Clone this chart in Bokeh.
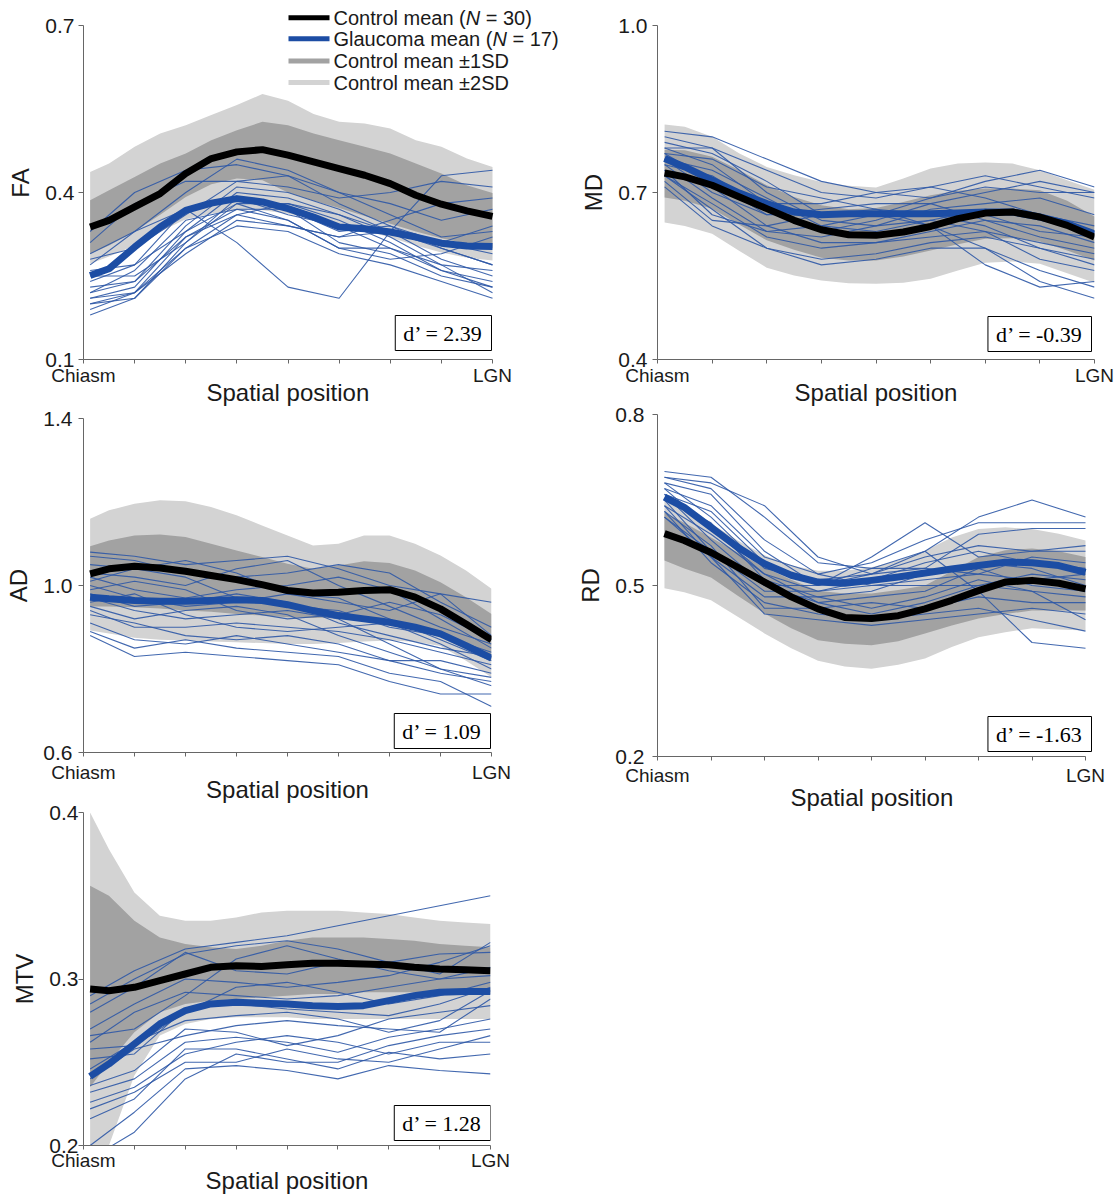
from bokeh.plotting import figure
from bokeh.layouts import row, column
from bokeh.models import Range1d, FixedTicker, Label, BoxAnnotation, Title
from bokeh.embed import file_html
from bokeh.resources import INLINE

# ---------------- data ----------------
XS = [0.13, 0.5, 1.0, 1.5, 2.0, 2.5, 3.0, 3.5, 4.0, 4.5, 5.0, 5.5, 6.0, 6.5, 7.0, 7.5, 8.0]
XS_SUBJ = [0.13, 1, 2, 3, 4, 5, 6, 7, 8]
X_TICKS = [0, 1, 2, 3, 4, 5, 6, 7, 8]
X_TICK_LABELS = {0: "Chiasm", 8: "LGN"}
X_LABEL = "Spatial position"

# FA
FA_YTICKS = [0.1, 0.4, 0.7]
FA_YTICK_LABELS = ["0.1", "0.4", "0.7"]
FA_CTRL = [0.338, 0.350, 0.374, 0.398, 0.434, 0.461, 0.473, 0.477, 0.467, 0.455, 0.443, 0.431, 0.416, 0.395, 0.379, 0.367, 0.357]
FA_GLAU = [0.251, 0.263, 0.302, 0.338, 0.368, 0.381, 0.389, 0.383, 0.371, 0.356, 0.338, 0.335, 0.329, 0.320, 0.309, 0.304, 0.303]
FA_UP2 = [0.437, 0.452, 0.482, 0.506, 0.521, 0.539, 0.557, 0.577, 0.565, 0.541, 0.527, 0.524, 0.515, 0.494, 0.482, 0.461, 0.446]
FA_UP1 = [0.386, 0.404, 0.428, 0.452, 0.470, 0.494, 0.512, 0.527, 0.521, 0.506, 0.494, 0.482, 0.470, 0.452, 0.434, 0.413, 0.399]
FA_LO1 = [0.290, 0.305, 0.330, 0.360, 0.392, 0.415, 0.425, 0.422, 0.400, 0.385, 0.372, 0.358, 0.344, 0.330, 0.318, 0.308, 0.300]
FA_LO2 = [0.272, 0.285, 0.305, 0.330, 0.352, 0.362, 0.368, 0.368, 0.362, 0.352, 0.342, 0.332, 0.319, 0.305, 0.292, 0.283, 0.278]
FA_SUBJECTS = [
    [0.33, 0.40, 0.44, 0.45, 0.43, 0.40, 0.38, 0.35, 0.37],
    [0.31, 0.38, 0.42, 0.42, 0.41, 0.39, 0.40, 0.42, 0.41],
    [0.29, 0.33, 0.40, 0.46, 0.44, 0.40, 0.36, 0.32, 0.33],
    [0.28, 0.30, 0.36, 0.42, 0.43, 0.38, 0.34, 0.30, 0.27],
    [0.27, 0.33, 0.37, 0.31, 0.23, 0.21, 0.33, 0.43, 0.44],
    [0.26, 0.27, 0.33, 0.40, 0.39, 0.36, 0.33, 0.28, 0.25],
    [0.25, 0.25, 0.31, 0.38, 0.38, 0.35, 0.31, 0.26, 0.23],
    [0.24, 0.27, 0.37, 0.39, 0.36, 0.34, 0.30, 0.27, 0.26],
    [0.23, 0.24, 0.32, 0.37, 0.37, 0.33, 0.34, 0.31, 0.29],
    [0.22, 0.24, 0.34, 0.41, 0.40, 0.37, 0.33, 0.31, 0.34],
    [0.22, 0.26, 0.35, 0.37, 0.35, 0.30, 0.30, 0.26, 0.24],
    [0.21, 0.22, 0.30, 0.36, 0.38, 0.36, 0.32, 0.27, 0.22],
    [0.21, 0.23, 0.33, 0.38, 0.35, 0.30, 0.28, 0.29, 0.32],
    [0.20, 0.22, 0.29, 0.35, 0.34, 0.32, 0.33, 0.30, 0.27],
    [0.20, 0.21, 0.30, 0.34, 0.33, 0.29, 0.27, 0.24, 0.21],
    [0.19, 0.22, 0.32, 0.36, 0.34, 0.32, 0.35, 0.38, 0.39],
    [0.18, 0.21, 0.31, 0.39, 0.37, 0.31, 0.29, 0.25, 0.23],
]
FA_DPRIME = "2.39"

# MD
MD_YTICKS = [0.4, 0.7, 1.0]
MD_YTICK_LABELS = ["0.4", "0.7", "1.0"]
MD_CTRL = [0.735, 0.728, 0.713, 0.692, 0.671, 0.650, 0.633, 0.624, 0.623, 0.629, 0.639, 0.653, 0.663, 0.665, 0.656, 0.641, 0.620]
MD_GLAU = [0.761, 0.746, 0.722, 0.699, 0.680, 0.665, 0.660, 0.662, 0.662, 0.662, 0.662, 0.663, 0.665, 0.665, 0.656, 0.644, 0.626]
MD_UP2 = [0.822, 0.818, 0.800, 0.770, 0.746, 0.731, 0.719, 0.712, 0.709, 0.725, 0.743, 0.752, 0.754, 0.752, 0.740, 0.722, 0.705]
MD_UP1 = [0.777, 0.776, 0.764, 0.740, 0.713, 0.692, 0.677, 0.670, 0.672, 0.683, 0.695, 0.703, 0.707, 0.707, 0.704, 0.685, 0.657]
MD_LO1 = [0.691, 0.685, 0.671, 0.642, 0.614, 0.597, 0.583, 0.578, 0.578, 0.585, 0.596, 0.607, 0.617, 0.618, 0.612, 0.596, 0.578]
MD_LO2 = [0.646, 0.640, 0.626, 0.595, 0.565, 0.551, 0.542, 0.537, 0.536, 0.538, 0.545, 0.560, 0.574, 0.576, 0.572, 0.555, 0.538]
MD_SUBJECTS = [
    [0.81, 0.80, 0.76, 0.72, 0.70, 0.69, 0.72, 0.74, 0.71],
    [0.80, 0.78, 0.74, 0.70, 0.69, 0.71, 0.73, 0.71, 0.69],
    [0.79, 0.77, 0.72, 0.66, 0.66, 0.69, 0.71, 0.70, 0.70],
    [0.78, 0.78, 0.70, 0.65, 0.64, 0.67, 0.68, 0.69, 0.66],
    [0.78, 0.75, 0.68, 0.68, 0.70, 0.71, 0.69, 0.66, 0.64],
    [0.77, 0.76, 0.71, 0.69, 0.67, 0.64, 0.60, 0.54, 0.51],
    [0.77, 0.72, 0.66, 0.67, 0.68, 0.68, 0.65, 0.62, 0.60],
    [0.76, 0.74, 0.69, 0.64, 0.63, 0.65, 0.67, 0.66, 0.63],
    [0.76, 0.70, 0.66, 0.66, 0.66, 0.66, 0.64, 0.60, 0.58],
    [0.75, 0.73, 0.67, 0.63, 0.65, 0.68, 0.70, 0.72, 0.70],
    [0.75, 0.69, 0.63, 0.62, 0.64, 0.65, 0.63, 0.58, 0.56],
    [0.74, 0.66, 0.63, 0.64, 0.66, 0.64, 0.57, 0.53, 0.54],
    [0.74, 0.71, 0.64, 0.61, 0.61, 0.62, 0.63, 0.61, 0.59],
    [0.73, 0.68, 0.62, 0.60, 0.61, 0.63, 0.65, 0.64, 0.61],
    [0.73, 0.67, 0.60, 0.58, 0.59, 0.61, 0.62, 0.60, 0.57],
    [0.72, 0.65, 0.64, 0.66, 0.67, 0.66, 0.66, 0.63, 0.62],
    [0.71, 0.64, 0.60, 0.57, 0.58, 0.60, 0.60, 0.56, 0.53],
]
MD_DPRIME = "-0.39"

# AD
AD_YTICKS = [0.6, 1.0, 1.4]
AD_YTICK_LABELS = ["0.6", "1.0", "1.4"]
AD_CTRL = [1.028, 1.040, 1.046, 1.042, 1.034, 1.024, 1.014, 1.002, 0.988, 0.982, 0.984, 0.988, 0.990, 0.972, 0.944, 0.908, 0.870]
AD_GLAU = [0.972, 0.968, 0.964, 0.962, 0.962, 0.964, 0.966, 0.964, 0.954, 0.940, 0.928, 0.920, 0.912, 0.900, 0.884, 0.856, 0.826]
AD_UP2 = [1.160, 1.180, 1.196, 1.204, 1.202, 1.188, 1.168, 1.144, 1.120, 1.096, 1.100, 1.120, 1.120, 1.100, 1.072, 1.036, 0.992]
AD_UP1 = [1.094, 1.108, 1.120, 1.122, 1.116, 1.100, 1.084, 1.068, 1.052, 1.040, 1.048, 1.058, 1.054, 1.036, 1.008, 0.972, 0.932]
AD_LO1 = [0.950, 0.950, 0.948, 0.945, 0.940, 0.937, 0.932, 0.928, 0.924, 0.922, 0.924, 0.925, 0.920, 0.905, 0.880, 0.850, 0.820]
AD_LO2 = [0.892, 0.885, 0.875, 0.870, 0.868, 0.866, 0.864, 0.862, 0.860, 0.860, 0.862, 0.866, 0.868, 0.865, 0.855, 0.820, 0.780]
AD_SUBJECTS = [
    [1.08, 1.07, 1.05, 1.06, 1.07, 1.04, 1.00, 0.98, 0.96],
    [1.07, 1.06, 1.03, 1.02, 1.03, 1.05, 1.03, 0.96, 0.90],
    [1.05, 1.04, 1.06, 1.03, 0.98, 0.96, 0.94, 0.98, 0.88],
    [1.03, 1.02, 1.00, 1.04, 1.06, 1.00, 0.95, 0.90, 0.86],
    [1.02, 0.99, 0.97, 0.99, 1.00, 1.02, 0.99, 0.92, 0.85],
    [1.01, 1.04, 1.02, 0.97, 0.95, 0.94, 0.90, 0.88, 0.84],
    [1.00, 0.97, 0.95, 0.96, 0.98, 0.97, 0.92, 0.87, 0.82],
    [0.99, 1.01, 0.99, 0.94, 0.92, 0.93, 0.96, 0.93, 0.87],
    [0.98, 0.95, 0.96, 0.98, 0.96, 0.91, 0.88, 0.85, 0.83],
    [0.97, 0.94, 0.92, 0.93, 0.94, 0.92, 0.86, 0.80, 0.78],
    [0.96, 0.98, 0.93, 0.90, 0.89, 0.90, 0.91, 0.86, 0.80],
    [0.95, 0.92, 0.94, 0.95, 0.93, 0.88, 0.84, 0.80, 0.76],
    [0.94, 0.90, 0.90, 0.91, 0.90, 0.89, 0.87, 0.84, 0.81],
    [0.93, 0.91, 0.88, 0.87, 0.88, 0.86, 0.82, 0.79, 0.77],
    [0.91, 0.87, 0.86, 0.88, 0.86, 0.84, 0.82, 0.82, 0.79],
    [0.89, 0.85, 0.87, 0.85, 0.84, 0.83, 0.79, 0.77, 0.71],
    [0.88, 0.83, 0.84, 0.83, 0.82, 0.81, 0.77, 0.74, 0.74],
]
AD_DPRIME = "1.09"

# RD
RD_YTICKS = [0.2, 0.5, 0.8]
RD_YTICK_LABELS = ["0.2", "0.5", "0.8"]
RD_CTRL = [0.591, 0.579, 0.558, 0.532, 0.506, 0.480, 0.459, 0.444, 0.442, 0.447, 0.459, 0.474, 0.491, 0.506, 0.509, 0.504, 0.494]
RD_GLAU = [0.655, 0.637, 0.602, 0.567, 0.538, 0.518, 0.506, 0.504, 0.509, 0.515, 0.522, 0.529, 0.535, 0.541, 0.540, 0.535, 0.523]
RD_UP2 = [0.649, 0.632, 0.609, 0.579, 0.553, 0.535, 0.526, 0.526, 0.532, 0.544, 0.561, 0.584, 0.599, 0.602, 0.599, 0.591, 0.579]
RD_UP1 = [0.628, 0.610, 0.584, 0.558, 0.532, 0.510, 0.491, 0.486, 0.486, 0.492, 0.500, 0.525, 0.550, 0.562, 0.565, 0.560, 0.550]
RD_LO1 = [0.544, 0.530, 0.514, 0.482, 0.451, 0.425, 0.404, 0.398, 0.395, 0.402, 0.416, 0.430, 0.442, 0.450, 0.456, 0.456, 0.456]
RD_LO2 = [0.495, 0.488, 0.474, 0.445, 0.416, 0.390, 0.368, 0.358, 0.354, 0.361, 0.372, 0.392, 0.409, 0.418, 0.425, 0.423, 0.421]
RD_SUBJECTS = [
    [0.70, 0.69, 0.62, 0.54, 0.53, 0.56, 0.62, 0.65, 0.62],
    [0.69, 0.67, 0.58, 0.52, 0.54, 0.58, 0.61, 0.61, 0.61],
    [0.69, 0.68, 0.64, 0.55, 0.52, 0.53, 0.59, 0.60, 0.60],
    [0.68, 0.66, 0.56, 0.50, 0.55, 0.61, 0.55, 0.56, 0.57],
    [0.68, 0.62, 0.53, 0.51, 0.52, 0.55, 0.57, 0.56, 0.56],
    [0.67, 0.64, 0.55, 0.52, 0.50, 0.51, 0.52, 0.55, 0.54],
    [0.67, 0.60, 0.52, 0.49, 0.51, 0.54, 0.56, 0.54, 0.53],
    [0.66, 0.63, 0.54, 0.50, 0.52, 0.56, 0.49, 0.40, 0.39],
    [0.66, 0.58, 0.50, 0.50, 0.53, 0.53, 0.52, 0.51, 0.52],
    [0.65, 0.61, 0.51, 0.48, 0.49, 0.52, 0.54, 0.53, 0.50],
    [0.65, 0.56, 0.49, 0.49, 0.50, 0.50, 0.50, 0.52, 0.51],
    [0.64, 0.59, 0.52, 0.47, 0.48, 0.49, 0.53, 0.50, 0.49],
    [0.64, 0.55, 0.48, 0.48, 0.46, 0.48, 0.51, 0.49, 0.48],
    [0.63, 0.57, 0.46, 0.46, 0.47, 0.46, 0.48, 0.47, 0.47],
    [0.63, 0.54, 0.47, 0.45, 0.44, 0.45, 0.46, 0.44, 0.42],
    [0.62, 0.56, 0.50, 0.47, 0.45, 0.47, 0.50, 0.49, 0.44],
    [0.62, 0.55, 0.45, 0.44, 0.43, 0.44, 0.45, 0.46, 0.45],
]
RD_DPRIME = "-1.63"

# MTV
MTV_YTICKS = [0.2, 0.3, 0.4]
MTV_YTICK_LABELS = ["0.2", "0.3", "0.4"]
MTV_CTRL = [0.294, 0.293, 0.295, 0.299, 0.303, 0.307, 0.308, 0.3075, 0.3085, 0.3095, 0.3095, 0.309, 0.3085, 0.307, 0.306, 0.3055, 0.305]
MTV_GLAU = [0.2415, 0.249, 0.261, 0.273, 0.281, 0.285, 0.286, 0.2855, 0.285, 0.284, 0.2835, 0.284, 0.287, 0.290, 0.292, 0.2925, 0.2925]
MTV_UP2 = [0.420, 0.378, 0.352, 0.338, 0.335, 0.335, 0.337, 0.340, 0.341, 0.341, 0.341, 0.340, 0.339, 0.337, 0.335, 0.334, 0.333]
MTV_UP1 = [0.356, 0.350, 0.335, 0.325, 0.321, 0.319, 0.318, 0.320, 0.323, 0.325, 0.325, 0.325, 0.324, 0.323, 0.321, 0.320, 0.319]
MTV_LO1 = [0.235, 0.250, 0.268, 0.280, 0.285, 0.287, 0.288, 0.289, 0.290, 0.291, 0.291, 0.292, 0.292, 0.292, 0.291, 0.291, 0.291]
MTV_LO2 = [0.160, 0.200, 0.242, 0.266, 0.273, 0.276, 0.277, 0.277, 0.277, 0.276, 0.276, 0.276, 0.276, 0.276, 0.276, 0.276, 0.276]
MTV_SUBJECTS = [
    [0.290, 0.305, 0.318, 0.322, 0.326, 0.332, 0.338, 0.344, 0.350],
    [0.285, 0.300, 0.315, 0.320, 0.323, 0.318, 0.310, 0.315, 0.316],
    [0.280, 0.295, 0.316, 0.305, 0.303, 0.310, 0.310, 0.303, 0.322],
    [0.270, 0.285, 0.300, 0.298, 0.295, 0.298, 0.302, 0.310, 0.320],
    [0.266, 0.270, 0.290, 0.312, 0.320, 0.312, 0.305, 0.300, 0.307],
    [0.262, 0.280, 0.292, 0.290, 0.288, 0.290, 0.295, 0.300, 0.302],
    [0.258, 0.260, 0.280, 0.295, 0.298, 0.292, 0.285, 0.290, 0.298],
    [0.252, 0.255, 0.282, 0.285, 0.282, 0.280, 0.278, 0.285, 0.295],
    [0.246, 0.262, 0.275, 0.278, 0.280, 0.276, 0.268, 0.275, 0.293],
    [0.240, 0.258, 0.266, 0.272, 0.275, 0.272, 0.270, 0.268, 0.288],
    [0.236, 0.245, 0.270, 0.268, 0.260, 0.266, 0.276, 0.280, 0.284],
    [0.232, 0.240, 0.262, 0.265, 0.262, 0.256, 0.265, 0.270, 0.276],
    [0.226, 0.235, 0.255, 0.262, 0.266, 0.262, 0.255, 0.262, 0.262],
    [0.222, 0.232, 0.250, 0.250, 0.258, 0.252, 0.250, 0.258, 0.266],
    [0.216, 0.228, 0.258, 0.258, 0.252, 0.246, 0.256, 0.252, 0.255],
    [0.200, 0.220, 0.246, 0.248, 0.245, 0.240, 0.248, 0.245, 0.243],
    [0.192, 0.208, 0.240, 0.255, 0.250, 0.250, 0.260, 0.266, 0.270],
]
MTV_DPRIME = "1.28"

LEGEND_ROWS = [
    ("Control mean (", "N", "= 30)"),
    ("Glaucoma mean (", "N", "= 17)"),
    ("Control mean \u00b11SD", "", ""),
    ("Control mean \u00b12SD", "", ""),
]

# ---------------- style ----------------
LIGHT = "#d3d3d3"
DARK = "#a2a2a2"
SUBJ_COLOR = "#2d58a6"
GLAU_COLOR = "#1c4da4"
CTRL_COLOR = "#000000"
AXIS_COLOR = "#666666"
TEXT_COLOR = "#1a1a1a"
SANS = "Liberation Sans"
SERIF = "Liberation Serif"

# Arial/Liberation Sans advance widths (per 1000 em) for legend text layout
ADV = {"C": 722, "o": 556, "n": 556, "t": 278, "r": 333, "l": 222, " ": 278, "m": 833,
       "e": 556, "a": 556, "(": 333, "G": 778, "u": 556, "c": 500, "N": 722}


def text_width(s, size):
    return sum(ADV.get(ch, 556) for ch in s) * size / 1000.0


def make_panel(ylabel, yticks, ytick_labels, ctrl, glau, up2, up1, lo1, lo2, subjects,
               dprime, geo):
    fw, fh = geo["fw"], geo["fh"]
    ext_r, ext_t = geo["ext_r"], geo["ext_t"]
    x0, x1 = X_TICKS[0], X_TICKS[-1]
    y0, y1 = yticks[0], yticks[-1]
    # the frame may be extended beyond the plotted area (axes keep their bounds)
    x_end = x1 + (x1 - x0) * ext_r / fw
    y_end = y1 + (y1 - y0) * ext_t / fh
    p = figure(frame_width=fw + ext_r, frame_height=fh + ext_t,
               min_border_left=geo["l"], min_border_right=geo["r"],
               min_border_top=geo["top"] - ext_t, min_border_bottom=geo["b"],
               x_range=Range1d(x0, x_end), y_range=Range1d(y0, y_end),
               toolbar_location=None, tools="", output_backend="svg")
    p.outline_line_color = None
    p.xgrid.visible = False
    p.ygrid.visible = False
    p.background_fill_color = "white"
    p.border_fill_color = None
    if geo.get("mt", 0):
        try:
            p.margin = (geo["mt"], 0, 0, 0)
        except Exception:
            pass

    p.varea(x=XS, y1=lo2, y2=[min(v, y1) for v in up2], fill_color=LIGHT)
    p.varea(x=XS, y1=lo1, y2=up1, fill_color=DARK)
    p.multi_line(xs=[XS_SUBJ] * len(subjects), ys=subjects, line_color=SUBJ_COLOR,
                 line_width=1.1, line_alpha=0.9, line_join="round")
    p.line(XS, glau, line_color=GLAU_COLOR, line_width=7, line_join="round")
    p.line(XS, ctrl, line_color=CTRL_COLOR, line_width=7, line_join="round")

    xa = p.xaxis[0]
    xa.bounds = (x0, x1)
    xa.ticker = FixedTicker(ticks=X_TICKS)
    overrides = {t: "" for t in X_TICKS}
    overrides.update(X_TICK_LABELS)
    xa.major_label_overrides = overrides
    xa.major_tick_in = 0
    xa.major_tick_out = 4
    xa.minor_tick_line_color = None
    xa.axis_line_color = AXIS_COLOR
    xa.major_tick_line_color = AXIS_COLOR
    xa.major_label_text_font = SANS
    xa.major_label_text_font_size = "19px"
    xa.major_label_text_color = TEXT_COLOR
    xa.major_label_standoff = geo["xls"]
    if ext_r == 0:
        xa.axis_label = X_LABEL
        xa.axis_label_text_font = SANS
        xa.axis_label_text_font_size = "24px"
        xa.axis_label_text_font_style = "normal"
        xa.axis_label_text_color = TEXT_COLOR
        xa.axis_label_standoff = geo["xas"]
    else:
        # frame is wider than the plotted area: place the x label over the data width
        kw = dict(text=X_LABEL, align="left", vertical_align="top",
                  offset=int(round(fw / 2 - text_width_label(X_LABEL, 24) / 2)),
                  text_font=SANS, text_font_size="24px", text_font_style="normal",
                  text_color=TEXT_COLOR)
        try:
            t = Title(standoff=geo["xas"] * 2, **kw)
        except Exception:
            t = Title(standoff=0, **kw)
        p.add_layout(t, "below")

    ya = p.yaxis[0]
    ya.bounds = (y0, y1)
    ya.ticker = FixedTicker(ticks=yticks)
    ya.major_label_overrides = {t: s for t, s in zip(yticks, ytick_labels)}
    ya.axis_label = ylabel
    ya.major_tick_in = 0
    ya.major_tick_out = 5
    ya.minor_tick_line_color = None
    ya.axis_line_color = AXIS_COLOR
    ya.major_tick_line_color = AXIS_COLOR
    ya.major_label_text_font = SANS
    ya.major_label_text_font_size = "21px"
    ya.major_label_text_color = TEXT_COLOR
    ya.major_label_standoff = geo["yls"]
    ya.axis_label_text_font = SANS
    ya.axis_label_text_font_size = "24px"
    ya.axis_label_text_font_style = "normal"
    ya.axis_label_text_color = TEXT_COLOR
    ya.axis_label_standoff = 8

    p.add_layout(Label(x=fw - geo["box_r"], y=geo["box_b"],
                       x_units="screen", y_units="screen",
                       text="d\u2019 = " + dprime, text_font=SERIF, text_font_size="22px",
                       text_color="black", text_align="right", text_baseline="bottom",
                       padding=(8, 5), border_line_color="black",
                       border_line_width=1, background_fill_color="white"))
    return p


LABEL_ADV = {"S": 667, "p": 556, "a": 556, "t": 278, "i": 222, "l": 222, " ": 278,
             "o": 556, "s": 500, "n": 556}


def text_width_label(s, size):
    return sum(LABEL_ADV.get(ch, 556) for ch in s) * size / 1000.0


GEO_FA = dict(l=82, fw=409, ext_r=79, r=0, top=25, ext_t=19, fh=334, b=58,
              xls=1, xas=-10, yls=4, box_r=1, box_b=9, mt=0)
GEO_AD = dict(l=83, fw=408, ext_r=0, r=79, top=20, ext_t=0, fh=334, b=56,
              xls=5, xas=-10, yls=6, box_r=1, box_b=4, mt=-19)
GEO_MTV = dict(l=80, fw=407, ext_r=0, r=83, top=20, ext_t=0, fh=333, b=53,
               xls=0, xas=-7, yls=0, box_r=0, box_b=5, mt=-16)
GEO_MD = dict(l=87, fw=437, ext_r=0, r=22, top=25, ext_t=0, fh=334, b=52,
              xls=1, xas=-10, yls=5, box_r=3, box_b=8, mt=0)
GEO_RD = dict(l=87, fw=428, ext_r=7, r=24, top=20, ext_t=0, fh=342, b=59,
              xls=4, xas=-5, yls=8, box_r=-6, box_b=5, mt=-17)

p_fa = make_panel("FA", FA_YTICKS, FA_YTICK_LABELS, FA_CTRL, FA_GLAU, FA_UP2, FA_UP1, FA_LO1,
                  FA_LO2, FA_SUBJECTS, FA_DPRIME, GEO_FA)
p_md = make_panel("MD", MD_YTICKS, MD_YTICK_LABELS, MD_CTRL, MD_GLAU, MD_UP2, MD_UP1, MD_LO1,
                  MD_LO2, MD_SUBJECTS, MD_DPRIME, GEO_MD)
p_ad = make_panel("AD", AD_YTICKS, AD_YTICK_LABELS, AD_CTRL, AD_GLAU, AD_UP2, AD_UP1, AD_LO1,
                  AD_LO2, AD_SUBJECTS, AD_DPRIME, GEO_AD)
p_rd = make_panel("RD", RD_YTICKS, RD_YTICK_LABELS, RD_CTRL, RD_GLAU, RD_UP2, RD_UP1, RD_LO1,
                  RD_LO2, RD_SUBJECTS, RD_DPRIME, GEO_RD)
p_mtv = make_panel("MTV", MTV_YTICKS, MTV_YTICK_LABELS, MTV_CTRL, MTV_GLAU, MTV_UP2, MTV_UP1,
                   MTV_LO1, MTV_LO2, MTV_SUBJECTS, MTV_DPRIME, GEO_MTV)

# ---------------- legend (on FA panel, frame-relative screen units) ----------------
FRAME_L, FRAME_B = 82, 359
LEG_SW_X0, LEG_SW_X1 = 287, 328
LEG_TEXT_X = 332
LEG_ROW_Y = [17.2, 38.3, 60.5, 82.0]
LEG_SW_H = 5
LEG_SW_COLORS = [CTRL_COLOR, GLAU_COLOR, DARK, LIGHT]
LEG_SIZE = 20

for (a, b, c), yc, col in zip(LEGEND_ROWS, LEG_ROW_Y, LEG_SW_COLORS):
    sy = FRAME_B - yc
    p_fa.add_layout(BoxAnnotation(left=LEG_SW_X0 - FRAME_L, right=LEG_SW_X1 - FRAME_L,
                                  bottom=sy - LEG_SW_H / 2, top=sy + LEG_SW_H / 2,
                                  left_units="screen", right_units="screen",
                                  bottom_units="screen", top_units="screen",
                                  fill_color=col, fill_alpha=1.0, line_color=None))
    x = LEG_TEXT_X - FRAME_L
    p_fa.add_layout(Label(x=x, y=sy, x_units="screen", y_units="screen", text=a,
                          text_font=SANS, text_font_size=f"{LEG_SIZE}px", text_color=TEXT_COLOR,
                          text_align="left", text_baseline="middle"))
    if b:
        x += text_width(a, LEG_SIZE)
        p_fa.add_layout(Label(x=x, y=sy, x_units="screen", y_units="screen", text=b,
                              text_font=SANS, text_font_size=f"{LEG_SIZE}px",
                              text_font_style="italic", text_color=TEXT_COLOR,
                              text_align="left", text_baseline="middle"))
        x += text_width(b + " ", LEG_SIZE)
        p_fa.add_layout(Label(x=x, y=sy, x_units="screen", y_units="screen", text=c,
                              text_font=SANS, text_font_size=f"{LEG_SIZE}px",
                              text_color=TEXT_COLOR, text_align="left", text_baseline="middle"))

layout = row(column(p_fa, p_ad, p_mtv), column(p_md, p_rd))
open("out.html", "w").write(file_html(layout, INLINE))
